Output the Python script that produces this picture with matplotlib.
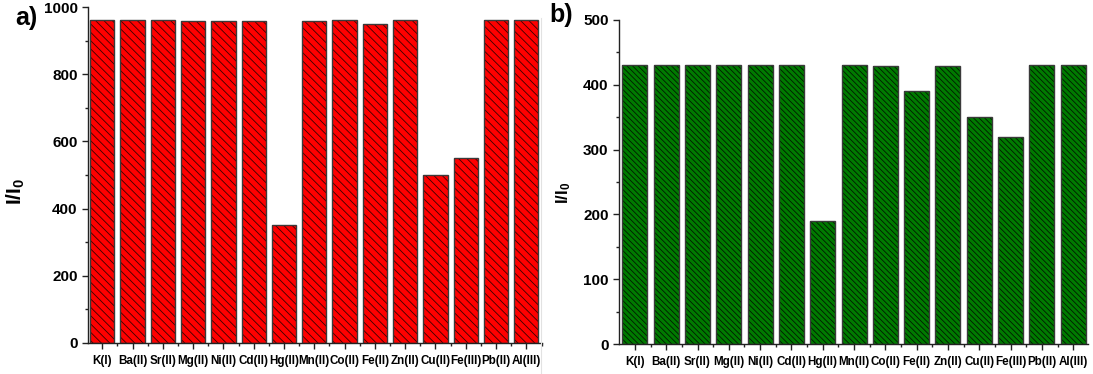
import matplotlib
matplotlib.use("Agg")
import matplotlib.pyplot as plt
from matplotlib.lines import Line2D
from matplotlib.ticker import MultipleLocator, FixedLocator

plt.rcParams['font.family'] = ['Liberation Sans', 'DejaVu Sans']
plt.rcParams['mathtext.fontset'] = 'custom'
plt.rcParams['mathtext.rm'] = 'Liberation Sans:bold'
plt.rcParams['mathtext.bf'] = 'Liberation Sans:bold'
plt.rcParams['mathtext.it'] = 'Liberation Sans:bold'
plt.rcParams['hatch.linewidth'] = 0.6

ions = ["K(I)", "Ba(II)", "Sr(II)", "Mg(II)", "Ni(II)", "Cd(II)", "Hg(II)",
        "Mn(II)", "Co(II)", "Fe(II)", "Zn(II)", "Cu(II)", "Fe(III)", "Pb(II)", "Al(III)"]
ratio_a = [962, 962, 962, 960, 960, 960, 351, 960, 961, 950, 962, 499, 550, 962, 962]
ratio_b = [431, 431, 431, 431, 431, 431, 190, 430, 429, 390, 429, 350, 320, 431, 431]

fig = plt.figure(figsize=(10.93, 3.74), dpi=100)
ax_a = fig.add_axes([0.0805, 0.083, 0.4155, 0.898])
ax_b = fig.add_axes([0.5663, 0.080, 0.4290, 0.867])

def style(ax, values, fill, hatch, hatch_col, ylim, major, label_size,
          ylabel_size, xlim):
    x = list(range(len(ions)))
    # hatched fill, then a separate outline on top
    ax.bar(x, values, width=0.8, color=fill, edgecolor=hatch_col,
           linewidth=0, hatch=hatch)
    ax.bar(x, values, width=0.8, fill=False, edgecolor='#3a3a3a',
           linewidth=1.0)
    ax.set_xlim(*xlim)
    ax.set_ylim(*ylim)
    for s in ('top', 'right'):
        ax.spines[s].set_visible(False)
    for s in ('left', 'bottom'):
        ax.spines[s].set_linewidth(1.0)
        ax.spines[s].set_color('#222222')
    ax.set_xticks(x)
    ax.set_xticklabels(ions, fontsize=8.4, fontweight='bold')
    ax.xaxis.set_minor_locator(FixedLocator([i + 0.5 for i in x]))
    ax.yaxis.set_major_locator(MultipleLocator(major))
    ax.yaxis.set_minor_locator(MultipleLocator(major / 2))
    ax.tick_params(axis='both', which='major', direction='out', length=4.5,
                   width=1.0, color='#222222')
    ax.tick_params(axis='both', which='minor', direction='out', length=2.5,
                   width=1.0, color='#222222')
    ax.tick_params(axis='y', labelsize=label_size, pad=3)
    ax.tick_params(axis='x', pad=4)
    for t in ax.get_yticklabels():
        t.set_fontweight('bold')
    ax.set_ylabel(r'I/I$_0$', fontsize=ylabel_size, fontweight='bold')

style(ax_a, ratio_a, '#ff0000', '\\\\\\\\', '#3a0000', (0, 1000), 200, 11,
      15, (-0.47, 14.52))
ax_a.yaxis.set_label_coords(-0.134, 0.452)

style(ax_b, ratio_b, '#007a00', '\\\\\\\\\\\\', '#001a00', (0, 500), 100, 11,
      12, (-0.51, 14.47))
ax_b.yaxis.set_label_coords(-0.098, 0.466)

# thin divider between the two panels
fig.add_artist(Line2D([0.495, 0.495], [0.0, 0.952], transform=fig.transFigure,
                      color='#e2e2e2', linewidth=0.8))

fig.text(0.0137, 0.933, 'a)', fontsize=18, fontweight='bold')
fig.text(0.503, 0.941, 'b)', fontsize=18, fontweight='bold')

fig.savefig('out.png', dpi=100)
